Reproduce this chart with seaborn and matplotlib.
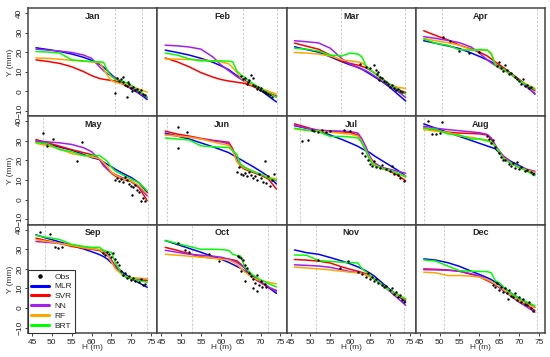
import numpy as np
import pandas as pd
import matplotlib
matplotlib.use('Agg')
import matplotlib.pyplot as plt
import seaborn as sns
from matplotlib.lines import Line2D

months = ['Jan', 'Feb', 'Mar', 'Apr', 'May', 'Jun', 'Jul', 'Aug', 'Sep', 'Oct', 'Nov', 'Dec']
models = ['MLR', 'SVR', 'NN', 'RF', 'BRT']
colors = {'MLR': '#0000FF', 'SVR': '#FF0000', 'NN': '#A020F0', 'RF': '#FFA500', 'BRT': '#00FF00'}

h_grid = [46, 49, 52, 55, 58, 60, 62, 63, 64, 65, 66, 68, 70, 72, 74]

mlr = {
    'Jan': [22.2, 21.3, 20.3, 19.0, 17.3, 15.8, 13.8, 12.3, 10.5, 8.5, 6.5, 3.8, 1.2, -1.2, -4.2],
    'Feb': [21.0, 19.8, 18.5, 16.8, 14.8, 13.0, 11.0, 9.5, 8.0, 6.8, 5.5, 3.0, 0.5, -2.5, -5.5],
    'Mar': [22.7, 21.3, 20.0, 17.6, 15.0, 13.5, 12.2, 11.2, 10.0, 8.8, 7.5, 5.0, 2.0, -1.5, -5.0],
    'Apr': [25.8, 24.5, 23.2, 21.8, 19.5, 17.8, 16.0, 15.0, 13.8, 12.7, 11.6, 9.0, 6.0, 2.5, -1.5],
    'May': [29.8, 28.3, 26.8, 25.3, 23.0, 21.5, 20.5, 19.2, 18.0, 16.8, 15.5, 13.3, 11.3, 8.5, 3.7],
    'Jun': [34.0, 32.5, 31.0, 29.0, 27.0, 25.5, 24.0, 22.8, 21.6, 20.5, 19.3, 17.0, 14.5, 11.8, 8.0],
    'Jul': [37.8, 36.5, 35.0, 33.0, 30.7, 29.0, 27.2, 26.0, 25.0, 24.0, 22.5, 20.0, 17.5, 15.0, 12.0],
    'Aug': [38.7, 36.5, 34.4, 32.3, 30.2, 28.8, 27.4, 26.7, 26.0, 24.0, 22.0, 19.5, 17.5, 15.3, 13.0],
    'Sep': [37.4, 35.5, 33.8, 32.0, 30.2, 28.8, 27.3, 26.3, 25.0, 23.0, 21.5, 18.0, 15.0, 12.8, 10.6],
    'Oct': [34.5, 32.5, 30.5, 28.5, 26.3, 25.0, 23.3, 22.3, 21.3, 20.3, 19.0, 16.5, 13.5, 10.5, 7.5],
    'Nov': [29.7, 28.3, 27.5, 25.8, 24.0, 22.6, 21.0, 20.0, 19.0, 17.8, 16.5, 13.0, 9.5, 6.5, 3.0],
    'Dec': [25.1, 24.5, 23.2, 21.3, 18.8, 17.2, 15.5, 14.5, 13.3, 12.0, 10.6, 7.6, 5.0, 2.7, 0.3],
}
svr = {
    'Jan': [16.0, 15.2, 14.2, 12.5, 10.0, 8.0, 6.5, 6.1, 5.8, 5.5, 5.2, 3.5, 1.5, -0.5, -3.3],
    'Feb': [17.0, 15.0, 12.5, 9.5, 7.2, 6.0, 5.2, 4.9, 4.6, 4.3, 4.0, 2.5, 0.8, -0.8, -2.5],
    'Mar': [24.6, 23.0, 21.5, 18.5, 15.3, 14.2, 13.3, 12.7, 12.0, 10.8, 9.5, 6.5, 3.5, 1.0, -0.7],
    'Apr': [30.9, 28.5, 26.3, 23.5, 21.5, 20.0, 18.0, 16.5, 15.0, 13.6, 12.2, 9.0, 6.0, 3.0, 0.2],
    'May': [30.7, 29.0, 27.3, 25.5, 24.0, 23.0, 20.5, 18.0, 15.5, 13.5, 12.0, 10.3, 9.2, 6.0, -0.5],
    'Jun': [35.0, 33.5, 32.5, 31.3, 30.3, 29.8, 29.3, 26.0, 20.0, 17.0, 15.5, 14.0, 12.5, 10.5, 5.4],
    'Jul': [38.7, 37.0, 35.2, 34.8, 34.6, 34.3, 33.0, 29.0, 25.0, 21.0, 18.0, 16.0, 14.5, 12.5, 9.6],
    'Aug': [36.7, 35.5, 34.5, 34.0, 33.8, 33.6, 33.0, 31.0, 27.5, 24.0, 21.5, 18.5, 16.5, 15.0, 14.0],
    'Sep': [35.7, 34.3, 33.0, 31.5, 30.5, 30.0, 29.4, 28.0, 26.8, 24.5, 21.5, 16.5, 14.8, 14.3, 14.0],
    'Oct': [31.0, 29.5, 27.8, 26.2, 25.5, 25.2, 25.0, 24.6, 24.2, 22.5, 20.5, 15.5, 13.0, 10.5, 9.0],
    'Nov': [24.8, 24.5, 24.0, 23.0, 21.0, 19.8, 18.8, 18.2, 17.5, 16.5, 15.0, 12.0, 9.0, 6.5, 4.0],
    'Dec': [20.0, 19.8, 19.5, 18.8, 17.2, 16.0, 14.0, 13.0, 12.0, 10.5, 9.0, 6.5, 4.0, 1.5, -1.3],
}
nn = {
    'Jan': [21.5, 21.0, 20.5, 19.8, 18.5, 16.8, 12.5, 10.5, 9.0, 7.8, 7.0, 4.0, 1.5, -1.0, -3.3],
    'Feb': [23.5, 23.2, 22.6, 21.5, 17.5, 13.5, 10.5, 9.0, 7.5, 6.2, 5.0, 3.0, 1.0, -1.0, -3.0],
    'Mar': [25.8, 25.3, 24.7, 22.0, 16.5, 13.8, 12.0, 11.3, 10.5, 9.3, 8.0, 5.5, 2.5, 0.0, -3.2],
    'Apr': [27.9, 27.0, 26.0, 24.8, 22.5, 19.5, 16.0, 14.5, 13.2, 12.0, 11.0, 8.5, 5.5, 2.0, -1.2],
    'May': [30.0, 29.5, 29.0, 28.2, 26.5, 24.5, 20.5, 17.3, 15.5, 14.0, 12.8, 11.0, 9.5, 6.5, 1.9],
    'Jun': [33.5, 32.5, 32.0, 31.0, 30.0, 29.5, 28.5, 25.0, 20.5, 18.0, 16.5, 14.5, 12.8, 11.3, 9.6],
    'Jul': [38.0, 36.5, 35.5, 35.2, 35.0, 34.8, 34.0, 31.0, 27.0, 22.0, 19.0, 16.5, 15.5, 14.5, 13.5],
    'Aug': [37.5, 36.5, 35.8, 35.2, 34.6, 34.2, 33.3, 31.5, 28.0, 25.0, 22.5, 19.0, 17.0, 15.5, 14.5],
    'Sep': [34.0, 33.5, 33.0, 32.3, 31.0, 30.3, 29.8, 29.0, 27.5, 24.0, 21.0, 16.5, 15.2, 15.0, 14.9],
    'Oct': [29.5, 28.5, 27.5, 27.0, 26.5, 26.0, 25.0, 24.2, 23.4, 22.0, 20.5, 16.0, 13.5, 10.8, 8.5],
    'Nov': [22.1, 21.8, 21.5, 20.8, 19.5, 18.6, 18.2, 17.8, 17.0, 16.0, 15.0, 12.0, 8.5, 5.0, 1.4],
    'Dec': [19.6, 19.5, 19.3, 18.8, 17.5, 16.5, 14.5, 13.3, 12.0, 10.5, 9.0, 6.0, 3.0, 0.5, -2.1],
}
rf = {
    'Jan': [17.0, 16.8, 16.3, 15.8, 15.3, 15.0, 14.5, 11.5, 8.0, 5.5, 4.5, 3.8, 2.5, 1.0, -0.5],
    'Feb': [16.5, 16.4, 16.2, 16.0, 15.5, 15.0, 14.0, 12.0, 9.6, 7.0, 5.0, 3.0, 1.5, 0.0, -1.5],
    'Mar': [19.8, 19.5, 19.0, 18.0, 16.0, 15.5, 15.0, 14.5, 13.0, 11.0, 9.5, 6.0, 3.5, 2.0, 1.4],
    'Apr': [27.0, 25.8, 24.8, 23.5, 21.2, 21.0, 21.0, 19.5, 14.0, 12.0, 11.0, 8.5, 5.5, 3.5, 1.4],
    'May': [28.8, 27.5, 26.0, 23.5, 22.5, 21.8, 21.0, 19.0, 17.0, 14.0, 12.5, 10.5, 9.5, 7.0, 2.8],
    'Jun': [33.0, 32.5, 32.0, 31.0, 29.5, 28.5, 27.8, 25.0, 19.5, 17.5, 16.0, 14.5, 13.0, 11.5, 10.5],
    'Jul': [36.1, 35.5, 35.0, 34.5, 33.8, 33.5, 32.5, 29.0, 25.0, 21.0, 18.0, 16.0, 15.0, 13.5, 12.0],
    'Aug': [35.8, 35.0, 34.4, 32.5, 31.8, 31.0, 30.5, 29.5, 27.5, 24.5, 21.5, 18.5, 16.5, 15.0, 14.0],
    'Sep': [34.9, 34.0, 33.0, 32.0, 30.8, 30.3, 29.8, 28.5, 27.0, 23.5, 20.0, 16.5, 15.5, 15.2, 15.0],
    'Oct': [27.5, 27.0, 26.5, 26.0, 25.5, 25.0, 24.5, 23.5, 22.5, 20.5, 18.5, 15.5, 14.0, 13.2, 12.3],
    'Nov': [20.9, 20.5, 20.0, 19.5, 18.8, 18.3, 18.0, 17.5, 17.0, 16.0, 15.0, 12.0, 9.0, 6.5, 4.8],
    'Dec': [18.3, 18.0, 16.6, 16.6, 16.3, 15.8, 14.5, 13.5, 12.3, 11.0, 9.5, 6.5, 4.0, 2.0, 0.3],
}
brt = {
    'Jan': [20.3, 20.0, 19.5, 16.0, 15.5, 15.2, 15.0, 14.8, 10.5, 7.5, 6.0, 5.0, 3.0, 0.0, -3.0],
    'Feb': [19.5, 18.5, 16.5, 15.5, 15.5, 15.5, 15.3, 15.0, 10.4, 8.5, 7.0, 4.0, 1.5, -1.0, -3.0],
    'Mar': [22.0, 21.5, 20.5, 18.5, 18.0, 19.5, 19.0, 17.5, 13.0, 11.0, 9.5, 6.5, 3.5, 1.0, -1.5],
    'Apr': [26.7, 24.5, 23.5, 21.2, 21.0, 21.3, 21.0, 19.0, 13.5, 12.5, 11.5, 8.5, 5.5, 3.0, 1.0],
    'May': [29.3, 28.5, 25.5, 24.5, 22.5, 22.5, 22.5, 21.0, 19.5, 16.5, 14.5, 12.5, 10.5, 8.5, 4.5],
    'Jun': [31.5, 31.0, 30.5, 27.5, 27.0, 26.8, 26.7, 25.0, 23.3, 18.0, 16.5, 14.5, 13.0, 11.0, 9.8],
    'Jul': [36.5, 35.5, 34.8, 32.3, 32.3, 32.0, 31.5, 29.0, 25.0, 20.0, 17.5, 16.0, 15.0, 13.5, 11.5],
    'Aug': [36.5, 36.0, 33.6, 33.0, 31.0, 31.0, 30.0, 29.3, 27.0, 25.0, 20.8, 18.5, 16.5, 14.5, 12.2],
    'Sep': [37.1, 36.0, 35.0, 32.5, 31.5, 31.0, 31.0, 29.5, 28.8, 28.5, 23.0, 16.5, 15.0, 14.0, 13.2],
    'Oct': [34.5, 33.0, 31.5, 30.0, 30.0, 29.9, 29.5, 27.5, 26.8, 26.5, 21.0, 17.0, 14.5, 12.5, 10.8],
    'Nov': [27.1, 27.0, 24.3, 23.8, 23.4, 23.3, 23.0, 20.0, 18.5, 17.0, 15.0, 12.0, 9.0, 7.0, 4.5],
    'Dec': [24.6, 24.0, 21.5, 19.1, 18.8, 18.7, 18.6, 18.0, 14.0, 13.0, 11.0, 7.5, 5.0, 3.0, 1.2],
}

obs_h = {
    'Jan': [65.9, 66.5, 67, 67.5, 67.8, 68, 68.5, 68.8, 69, 69.2, 69.5, 70, 70.2, 70.5, 71, 71.5, 72, 72.5, 73, 73.5],
    'Feb': [65, 65.5, 66, 66.5, 66.8, 67, 67.5, 68, 68.2, 68.5, 69, 69.3, 69.8, 70.2, 70.5, 71, 71.5, 72, 72.5, 73],
    'Mar': [62.5, 64, 65, 66, 66.5, 66.8, 67, 67.2, 67.5, 68, 68.5, 69, 69.5, 70, 70.5, 71, 71.5, 72, 72.5, 73],
    'Apr': [50.8, 52.6, 55, 57.5, 60, 64.5, 65, 65.5, 66, 66.5, 67, 67.5, 68, 69, 69.5, 70, 70.5, 71, 71.5, 72, 72.5, 73],
    'May': [47.7, 48.7, 50.4, 56.3, 57.5, 66, 66.5, 67, 67.5, 68, 68.5, 69, 69.5, 70, 70.2, 70.5, 71, 71.5, 72, 72.5, 73, 73.5],
    'Jun': [49.3, 49.3, 51.4, 64, 64.5, 65, 65.5, 66, 66.5, 67, 67.5, 68, 68.5, 69, 69.5, 70, 70.5, 71.2, 71.5, 72, 72.5, 73, 73.5],
    'Jul': [47.8, 49.5, 50.5, 51, 52, 53, 54, 55, 58.5, 60, 63, 63.8, 64.5, 65, 65.5, 66, 66.5, 67.5, 68, 69, 70, 70.5, 71, 72, 72.5, 73.5],
    'Aug': [47.1, 48, 49, 50, 50.5, 62, 62.5, 63, 63.5, 64, 65, 65.5, 66, 66.5, 67.5, 68, 68.5, 69, 69.5, 70, 70.5, 71.5, 72, 73, 73.5],
    'Sep': [47.1, 49.6, 50.9, 51.6, 52.5, 63, 63.5, 64, 64.5, 65, 65.3, 65.8, 66.3, 66.8, 67.5, 68, 68.5, 69, 69.5, 70, 70.5, 71, 72, 72.5, 73, 73.5],
    'Oct': [49.3, 51, 52, 57, 59.5, 64.3, 64.7, 65, 65.2, 65.5, 66, 66.2, 66.5, 67, 67.5, 68, 68.2, 68.5, 69, 69.2, 69.5, 70, 70.3, 71, 71.5],
    'Nov': [52, 57.5, 59.5, 62, 63, 64, 64.5, 65, 65.5, 66, 66.5, 67, 68, 68.5, 69, 70, 70.5, 71, 71.5, 72, 72.5, 73, 73.5],
    'Dec': [63.5, 64, 64.5, 65, 65.5, 66, 66.5, 67, 67.2, 67.5, 68, 68.5, 69, 69.5, 70, 70.5, 71, 71.5, 72, 72.5, 73, 73.5],
}
obs_y = {
    'Jan': [-0.7, 6.5, 5, 6, 7.5, 4.5, 3, -3.2, 2.5, 4.8, 3.5, 1.5, 0, 2, 0.5, 1, -0.5, 0.5, -1.5, -2],
    'Feb': [8, 6, 6.5, 3.5, 4.5, 5.5, 8.5, 3, 7, 2.5, 1, 2, 0.5, 1.5, 0, -0.5, -1, -1.5, -2, -3],
    'Mar': [14, 12.5, 12, 13.5, 11, 9, 10, 5.5, 7.5, 6.5, 5, 4.5, 3.5, 2, 3, 1.5, 0.5, 1, 0, -0.5],
    'Apr': [27.7, 25.8, 20.5, 19.5, 20, 13, 15, 12, 10.5, 13.5, 11, 9, 9.5, 7.5, 6, 5, 3.5, 6, 2.5, 3, 1.5, 2],
    'May': [34.1, 27.2, 31, 19.9, 29.3, 10, 11, 9.5, 10.5, 9, 11.5, 10, 8, 7, 2.5, 6.5, 7.5, 5, 4, -0.5, 1, -0.5],
    'Jun': [37, 26.2, 34.4, 14, 16.5, 13, 12.5, 13.5, 12, 14, 12.5, 11, 12, 10, 13, 11, 9, 19.5, 8.5, 12, 7, 10, 13],
    'Jul': [30, 30.5, 35.5, 35, 34.5, 35.5, 34.5, 35, 35.5, 35, 24, 22.5, 20, 18, 17, 19.5, 16.5, 16, 17.5, 15.5, 14.5, 17, 13, 12.5, 11, 9.5],
    'Aug': [40.4, 33.6, 33.5, 34, 39.6, 32.5, 31, 29, 30.5, 27, 24, 22, 20.5, 20, 18, 17, 18.5, 16, 19, 15.5, 16.5, 14.5, 15, 14, 13],
    'Sep': [38.8, 37.9, 31.1, 30.5, 31, 28, 27, 28.5, 27.5, 26, 28, 25, 23.5, 22, 19, 17, 18, 15.5, 16.5, 14.5, 15.5, 14, 13.5, 15, 12, 12.5],
    'Oct': [33.3, 29.5, 28.5, 27.5, 24, 26.5, 26, 19, 25.5, 24.5, 22, 14, 20.5, 18, 16.5, 15, 10, 13, 17, 8.5, 12, 14, 10.5, 12.5, 11],
    'Nov': [24.5, 20.5, 23.9, 18.5, 17.5, 16, 18, 15, 16, 14, 15, 13, 12, 10.5, 11.5, 9, 10, 7, 8, 5.5, 6.5, 4, 3],
    'Dec': [12, 10.5, 13, 9, 11, 8, 10, 7.5, 4.5, 9, 6, 5.5, 7.5, 4, 5.5, 3, 4.5, 2, 1.5, 3, 0, -1.5],
}

# dashed guide lines (range limits) per month
vlines = {
    'Jan': [65.9, 72.6], 'Feb': [65.7, 74.1], 'Mar': [57.6, 73.8], 'Apr': [50.7, 74.4],
    'May': [47.8, 74.3], 'Jun': [46.5, 74.0], 'Jul': [47.3, 73.7], 'Aug': [46.0, 74.4],
    'Sep': [48.3, 73.9], 'Oct': [52.7, 72.0], 'Nov': [51.5, 73.6], 'Dec': [51.1, 74.4],
}

x_ticks = [45, 50, 55, 60, 65, 70, 75]
y_ticks = [-10, 0, 10, 20, 30, 40]

# long table of all model curves
rows = []
for m in months:
    for name, table in zip(models, [mlr, svr, nn, rf, brt]):
        for h, y in zip(h_grid, table[m]):
            rows.append((m, name, h, y))
curves = pd.DataFrame(rows, columns=['month', 'model', 'H', 'Y'])

sns.set_style('ticks')
plt.rcParams['font.family'] = ['Liberation Sans', 'DejaVu Sans']

fig, axes = plt.subplots(3, 4, figsize=(5.5, 3.57), dpi=100, sharex=True, sharey=True)
fig.subplots_adjust(left=0.051, right=0.991, top=0.978, bottom=0.067, wspace=0, hspace=0)

for i, m in enumerate(months):
    ax = axes[i // 4, i % 4]
    for v in vlines[m]:
        ax.axvline(v, color='#cccccc', linestyle=(0, (2, 1.5)), linewidth=0.8, zorder=0)
    sns.lineplot(data=curves[curves['month'] == m], x='H', y='Y', hue='model',
                 hue_order=models, palette=colors, estimator=None, sort=False,
                 linewidth=1.1, legend=False, ax=ax)
    sns.scatterplot(x=obs_h[m], y=obs_y[m], color='black', s=3, linewidth=0, ax=ax, zorder=5)
    ax.text(0.5, 0.965, m, transform=ax.transAxes, ha='center', va='top',
            fontsize=6.5, fontweight='bold')
    ax.set_xlim(44.0, 76.55)
    ax.set_ylim(-12.8, 42.6)
    ax.set_xticks(x_ticks)
    ax.set_yticks(y_ticks)
    ax.set_xlabel('')
    ax.set_ylabel('')
    for sp in ax.spines.values():
        sp.set_visible(True)
        sp.set_color('#444444')
        sp.set_linewidth(1.1)
    bottom = i // 4 == 2
    left = i % 4 == 0
    ax.tick_params(axis='x', bottom=bottom, labelbottom=bottom, labelsize=6,
                   length=2.5, width=0.6, pad=1.5, colors='#222222')
    ax.tick_params(axis='y', left=left, labelleft=left, labelsize=6,
                   length=2.5, width=0.6, pad=1, colors='#222222')
    if left:
        for lab in ax.get_yticklabels():
            lab.set_rotation(90)
            lab.set_va('center')
        ax.set_ylabel('Y (mm)', fontsize=6, labelpad=1.5, color='#333333')
    if bottom:
        ax.set_xlabel('H (m)', fontsize=6, labelpad=-1, color='#333333')

handles = [Line2D([], [], marker='o', color='black', linestyle='none', markersize=2.2)]
handles += [Line2D([], [], color=colors[n], linewidth=2.2) for n in models]
leg = axes[2, 0].legend(handles, ['Obs'] + models, loc='lower left', fontsize=6,
                        frameon=True, fancybox=False, borderaxespad=0, handlelength=2.2,
                        handletextpad=0.6, labelspacing=0.25, borderpad=0.35)
leg.get_frame().set_edgecolor('#333333')
leg.get_frame().set_linewidth(0.8)
leg.get_frame().set_alpha(1)

fig.savefig('out.png', dpi=100)
